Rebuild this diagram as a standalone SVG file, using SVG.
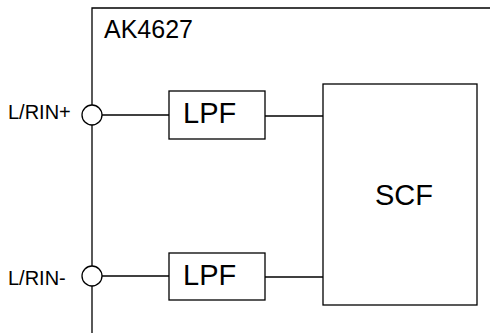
<svg xmlns="http://www.w3.org/2000/svg" width="490" height="333" viewBox="0 0 490 333">
<style>
.ln{fill:none;stroke:#000;stroke-width:1.3}
.bx{fill:#fff;stroke:#000;stroke-width:1.3}
.t{font-family:"Liberation Sans",Arial,sans-serif;fill:#000}
</style>
<rect width="490" height="333" fill="#fff"/>
<g id="chip">
<path class="ln" d="M92,333 V8 H490"/>
<text class="t" x="104" y="38" font-size="25">AK4627</text>
</g>
<g id="connectors">
<path class="ln" d="M102,115 H169"/>
<path class="ln" d="M265,116 H323"/>
<path class="ln" d="M102,276 H169"/>
<path class="ln" d="M265,277 H323"/>
</g>
<g id="pin-plus">
<circle class="bx" cx="92" cy="115" r="10"/>
<text class="t" x="8" y="119" font-size="20">L/RIN+</text>
</g>
<g id="pin-minus">
<circle class="bx" cx="92" cy="276" r="10"/>
<text class="t" x="8" y="285" font-size="20">L/RIN-</text>
</g>
<g id="lpf1">
<rect class="bx" x="169" y="91" width="96" height="48"/>
<text class="t" x="183" y="123" font-size="29">LPF</text>
</g>
<g id="lpf2">
<rect class="bx" x="169" y="253" width="96" height="47"/>
<text class="t" x="183" y="285" font-size="29">LPF</text>
</g>
<g id="scf">
<rect class="bx" x="323" y="84" width="154" height="221"/>
<text class="t" x="375" y="205" font-size="29">SCF</text>
</g>
</svg>
